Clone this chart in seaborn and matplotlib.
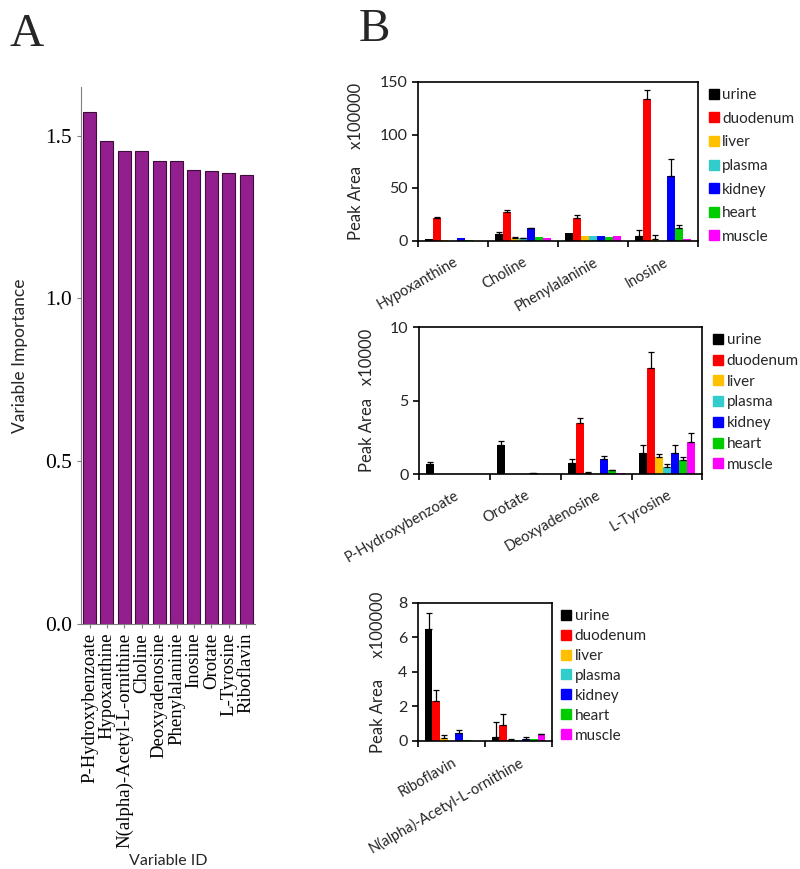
import pandas as pd
import seaborn as sns
import matplotlib.pyplot as plt
from matplotlib.lines import Line2D

sns.set_style("ticks")
plt.rcParams['font.family'] = ['Lato', 'DejaVu Sans']

# Panel A: variable importance
VIP_NAMES = ['P-Hydroxybenzoate', 'Hypoxanthine', 'N(alpha)-Acetyl-L-ornithine', 'Choline',
             'Deoxyadenosine', 'Phenylalaninie', 'Inosine', 'Orotate', 'L-Tyrosine', 'Riboflavin']
VIP_SCORES = [1.574, 1.485, 1.454, 1.454, 1.421, 1.421, 1.396, 1.392, 1.387, 1.378]

# Panel B: peak areas per tissue (rows follow TISSUES)
TISSUES = ['urine', 'duodenum', 'liver', 'plasma', 'kidney', 'heart', 'muscle']
TISSUE_COLORS = ['#000000', '#ff0000', '#ffc000', '#33cccc', '#0000ff', '#00cc00', '#ff00ff']

TOP_NAMES = ['Hypoxanthine', 'Choline', 'Phenylalaninie', 'Inosine']
TOP_MEAN = [
    [1.8, 6.6, 7.3, 5.0],
    [22.0, 27.8, 22.0, 134.0],
    [0.5, 3.2, 5.0, 2.2],
    [0.3, 2.5, 4.4, 0.3],
    [2.6, 12.0, 5.0, 61.0],
    [0.5, 3.5, 3.5, 12.6],
    [0.3, 3.2, 5.0, 1.6],
]
TOP_ERR = [
    [0.0, 1.6, 0.0, 5.0],
    [1.0, 1.3, 2.2, 8.5],
    [0.0, 0.5, 0.0, 3.0],
    [0.0, 0.4, 0.0, 0.0],
    [0.0, 0.5, 0.0, 16.7],
    [0.0, 0.0, 0.0, 2.2],
    [0.0, 0.0, 0.0, 0.0],
]

MID_NAMES = ['P-Hydroxybenzoate', 'Orotate', 'Deoxyadenosine', 'L-Tyrosine']
MID_MEAN = [
    [0.7, 2.0, 0.75, 1.45],
    [0.03, 0.02, 3.45, 7.2],
    [0.02, 0.02, 0.1, 1.15],
    [0.02, 0.03, 0.02, 0.45],
    [0.03, 0.08, 1.05, 1.4],
    [0.02, 0.02, 0.27, 0.95],
    [0.03, 0.02, 0.05, 2.2],
]
MID_ERR = [
    [0.12, 0.28, 0.3, 0.55],
    [0.0, 0.0, 0.35, 1.1],
    [0.0, 0.0, 0.03, 0.22],
    [0.0, 0.0, 0.0, 0.2],
    [0.0, 0.02, 0.17, 0.6],
    [0.0, 0.0, 0.03, 0.2],
    [0.0, 0.0, 0.0, 0.6],
]

BOT_NAMES = ['Riboflavin', 'N(alpha)-Acetyl-L-ornithine']
BOT_MEAN = [
    [6.5, 0.23],
    [2.33, 0.93],
    [0.19, 0.08],
    [0.01, 0.03],
    [0.48, 0.14],
    [0.04, 0.13],
    [0.01, 0.39],
]
BOT_ERR = [
    [0.9, 0.87],
    [0.62, 0.62],
    [0.15, 0.05],
    [0.0, 0.0],
    [0.15, 0.07],
    [0.0, 0.0],
    [0.0, 0.03],
]

SERIF = 'Liberation Serif'


def draw_vip(ax):
    df = pd.DataFrame({'name': VIP_NAMES, 'score': VIP_SCORES})
    sns.barplot(data=df, x='name', y='score', color='#931f8e', saturation=1,
                edgecolor='#3c0d3a', linewidth=0.8, width=0.75, ax=ax)
    ax.set_ylim(0, 1.65)
    ax.set_xlim(-0.5, len(VIP_NAMES) - 0.5)
    ax.set_yticks([0.0, 0.5, 1.0, 1.5])
    ax.set_yticklabels(['0.0', '0.5', '1.0', '1.5'], family=SERIF, fontsize=15.5)
    ax.set_xticks(range(len(VIP_NAMES)))
    ax.set_xticklabels(VIP_NAMES, rotation=90, family=SERIF, fontsize=13.5)
    ax.set_ylabel('Variable Importance', fontsize=12.5, labelpad=12)
    ax.set_xlabel('Variable ID', fontsize=11.5, labelpad=4)
    sns.despine(ax=ax)
    for s in ['left', 'bottom']:
        ax.spines[s].set_color('#808080')
    ax.tick_params(axis='both', colors='#808080', length=3, labelcolor='black')


def draw_tissue(ax, names, means, errs, ymax, yticks, ylabel, spacing, pad):
    rows = []
    for ti, tissue in enumerate(TISSUES):
        for mi, name in enumerate(names):
            rows.append({'metabolite': name, 'tissue': tissue, 'area': means[ti][mi]})
    df = pd.DataFrame(rows)
    sns.barplot(data=df, x='metabolite', y='area', hue='tissue', order=names,
                hue_order=TISSUES, palette=TISSUE_COLORS, saturation=1,
                errorbar=None, linewidth=0, legend=False, ax=ax)

    # one-sided error bars on top of each bar
    xs, ys, es = [], [], []
    for ti, cont in enumerate(ax.containers):
        for mi, bar in enumerate(cont):
            if errs[ti][mi] > 0:
                xs.append(bar.get_x() + bar.get_width() / 2)
                ys.append(bar.get_height())
                es.append(errs[ti][mi])
    ax.errorbar(xs, ys, yerr=[[0] * len(es), es], fmt='none', ecolor='black',
                elinewidth=0.9, capsize=2.5, capthick=0.9)

    n = len(names)
    ax.set_xlim(-0.5, n - 0.5)
    ax.set_ylim(0, ymax)
    ax.set_yticks(yticks)
    ax.set_yticklabels([str(t) for t in yticks], fontsize=11.5)
    ax.set_xticks([i - 0.5 for i in range(n + 1)])
    ax.set_xticklabels([])
    ax.set_xticks(range(n), minor=True)
    ax.set_xticklabels(names, minor=True, rotation=30, ha='right',
                       rotation_mode='anchor', fontsize=10.5)
    ax.tick_params(axis='x', which='minor', length=0, pad=10)
    ax.tick_params(axis='both', which='major', length=4, width=1.2, color='black')
    ax.set_xlabel('')
    ax.set_ylabel(ylabel, fontsize=12, labelpad=pad)
    for s in ax.spines.values():
        s.set_linewidth(1.2)
        s.set_color('black')

    handles = [Line2D([], [], marker='s', linestyle='', color=c, markersize=7.5)
               for c in TISSUE_COLORS]
    ax.legend(handles, TISSUES, loc='upper left', bbox_to_anchor=(1.01, 1.0),
              frameon=False, handletextpad=0.1, handlelength=0.9,
              labelspacing=spacing, borderaxespad=0, fontsize=11)


fig = plt.figure(figsize=(8, 8.69), dpi=100)

ax_a = fig.add_axes([0.101, 0.282, 0.2175, 0.618])
draw_vip(ax_a)

ax_top = fig.add_axes([0.5225, 0.7227, 0.35, 0.183])
draw_tissue(ax_top, TOP_NAMES, TOP_MEAN, TOP_ERR, 150, [0, 50, 100, 150],
            'Peak Area    x100000', 0.63, 11)

ax_mid = fig.add_axes([0.524, 0.4545, 0.354, 0.169])
draw_tissue(ax_mid, MID_NAMES, MID_MEAN, MID_ERR, 10, [0, 5, 10],
            'Peak Area   x10000', 0.44, 11)

ax_bot = fig.add_axes([0.5225, 0.1473, 0.1675, 0.159])
draw_tissue(ax_bot, BOT_NAMES, BOT_MEAN, BOT_ERR, 8, [0, 2, 4, 6, 8],
            'Peak Area     x100000', 0.39, 9)

fig.text(0.012, 0.985, 'A', family=SERIF, fontsize=34, va='top')
fig.text(0.448, 0.99, 'B', family=SERIF, fontsize=34, va='top')

fig.savefig('out.png', dpi=100)
